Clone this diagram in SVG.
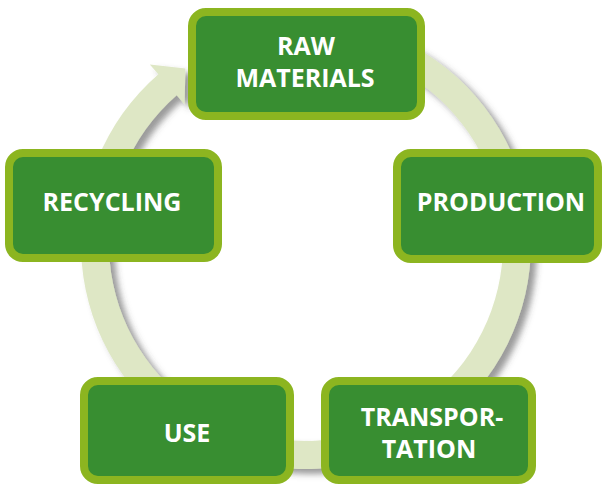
<svg xmlns="http://www.w3.org/2000/svg" width="603" height="486" viewBox="0 0 603 486">
  <defs>
    <filter id="ringShadow" x="-10%" y="-10%" width="125%" height="125%">
      <feDropShadow dx="6" dy="5" stdDeviation="3" flood-color="#4a4a4a" flood-opacity="0.55"/>
    </filter>
  </defs>
  <style>
    .box { fill: #388e31; stroke: #8cb520; stroke-width: 8; }
    .label { fill: #ffffff; font-family: "Open Sans", "Noto Sans", "Liberation Sans", sans-serif; font-weight: bold; font-size: 25px; text-anchor: middle; }
    .ring { fill: #dee7c5; }
  </style>
  <rect width="603" height="486" fill="#ffffff"/>

  <!-- circular flow band with arrowhead -->
  <g id="connectors">
    <path class="ring" filter="url(#ringShadow)" d="M 286.4 19.9 A 225 225 0 1 1 158.4 74.2 L 149.8 64.4 L 185.4 68.5 L 184.6 104.4 L 176.7 95.3 A 197 197 0 1 0 288.8 47.7 Z"/>
  </g>

  <g id="raw-materials">
    <rect class="box" x="192" y="12" width="229" height="104" rx="14"/>
    <text class="label" x="306" y="55">RAW</text>
    <text class="label" x="305" y="87">MATERIALS</text>
  </g>

  <g id="production">
    <rect class="box" x="397" y="153" width="201" height="106" rx="14"/>
    <text class="label" x="501" y="211">PRODUCTION</text>
  </g>

  <g id="recycling">
    <rect class="box" x="9" y="153" width="209" height="105" rx="14"/>
    <text class="label" x="112" y="211">RECYCLING</text>
  </g>

  <g id="use">
    <rect class="box" x="84" y="381" width="206" height="99" rx="14"/>
    <text class="label" x="187" y="442">USE</text>
  </g>

  <g id="transportation">
    <rect class="box" x="325" y="381" width="207" height="99" rx="14"/>
    <text class="label" x="432" y="426">TRANSPOR-</text>
    <text class="label" x="429" y="458">TATION</text>
  </g>
</svg>
